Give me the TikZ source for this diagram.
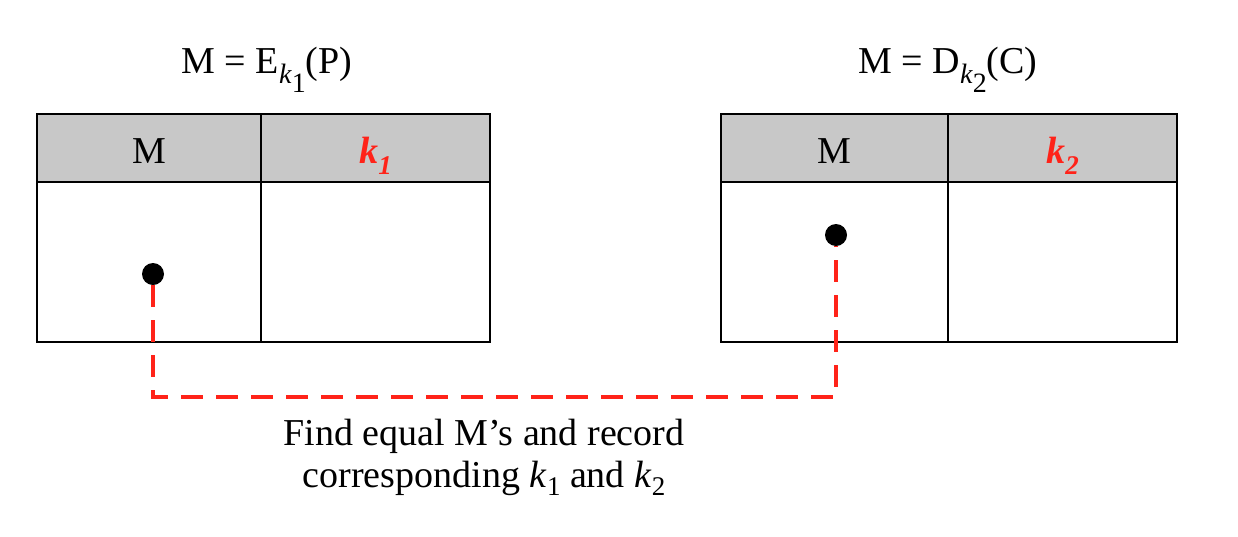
\documentclass[tikz,border=0pt]{standalone}
\usepackage{fontspec}
\setmainfont{Liberation Serif}
\definecolor{kred}{RGB}{255,35,25}
\definecolor{hgray}{RGB}{200,200,200}
\newcommand{\mysz}{\fontsize{38}{42}\selectfont}
\newcommand{\tsub}[2]{{\fontsize{28}{28}\selectfont\raisebox{-10pt}{\textit{#1}\raisebox{-9pt}{#2}}}}
\newcommand{\hk}[1]{\textbf{\textit{k}}{\fontsize{27}{27}\selectfont\raisebox{-11pt}{\textbf{\textit{#1}}}}}
\newcommand{\bk}[1]{\textit{k}{\fontsize{27}{27}\selectfont\raisebox{-8pt}{#1}}}
\begin{document}
\begin{tikzpicture}[x=1pt,y=-1pt,
  cell/.style={draw=black,line width=2.5pt,inner sep=0pt,text height=30pt,text depth=0pt,font=\mysz},
  hcell/.style={cell,fill=hgray,minimum height=68pt},
  bcell/.style={cell,fill=white,minimum height=160pt},
  dot/.style={circle,fill=black,inner sep=0pt,minimum size=22pt},
  conn/.style={draw=kred,line width=4pt,dash pattern=on 22pt off 13pt,line join=miter},
  lbl/.style={font=\mysz,inner sep=0pt,anchor=base}]
\useasboundingbox (0,0) rectangle (1238,536);
% left table
\node[hcell,minimum width=224pt] (lh1) at (149,148) {M};
\node[hcell,minimum width=229pt,text=kred] (lh2) at (375.5,148) {\hk{1}};
\node[bcell,minimum width=224pt] (lb1) at (149,262) {};
\node[bcell,minimum width=229pt] (lb2) at (375.5,262) {};
% right table
\node[hcell,minimum width=227pt] (rh1) at (834.5,148) {M};
\node[hcell,minimum width=229pt,text=kred] (rh2) at (1062.5,148) {\hk{2}};
\node[bcell,minimum width=227pt] (rb1) at (834.5,262) {};
\node[bcell,minimum width=229pt] (rb2) at (1062.5,262) {};
% titles
\node[lbl] (t1) at (267,73) {M = E\tsub{k}{1}(P)};
\node[lbl] (t2) at (948,73) {M = D\tsub{k}{2}(C)};
% dots and connector
\node[dot] (d1) at (153,274) {};
\node[dot] (d2) at (836,235) {};
\coordinate (turn) at (153,397);
\draw[conn] (d1) -- (turn) -| (d2);
% caption
\node[lbl,align=center] (cap) at (484,487) {Find equal M’s and record\\corresponding \bk{1} and \bk{2}};
\end{tikzpicture}
\end{document}
